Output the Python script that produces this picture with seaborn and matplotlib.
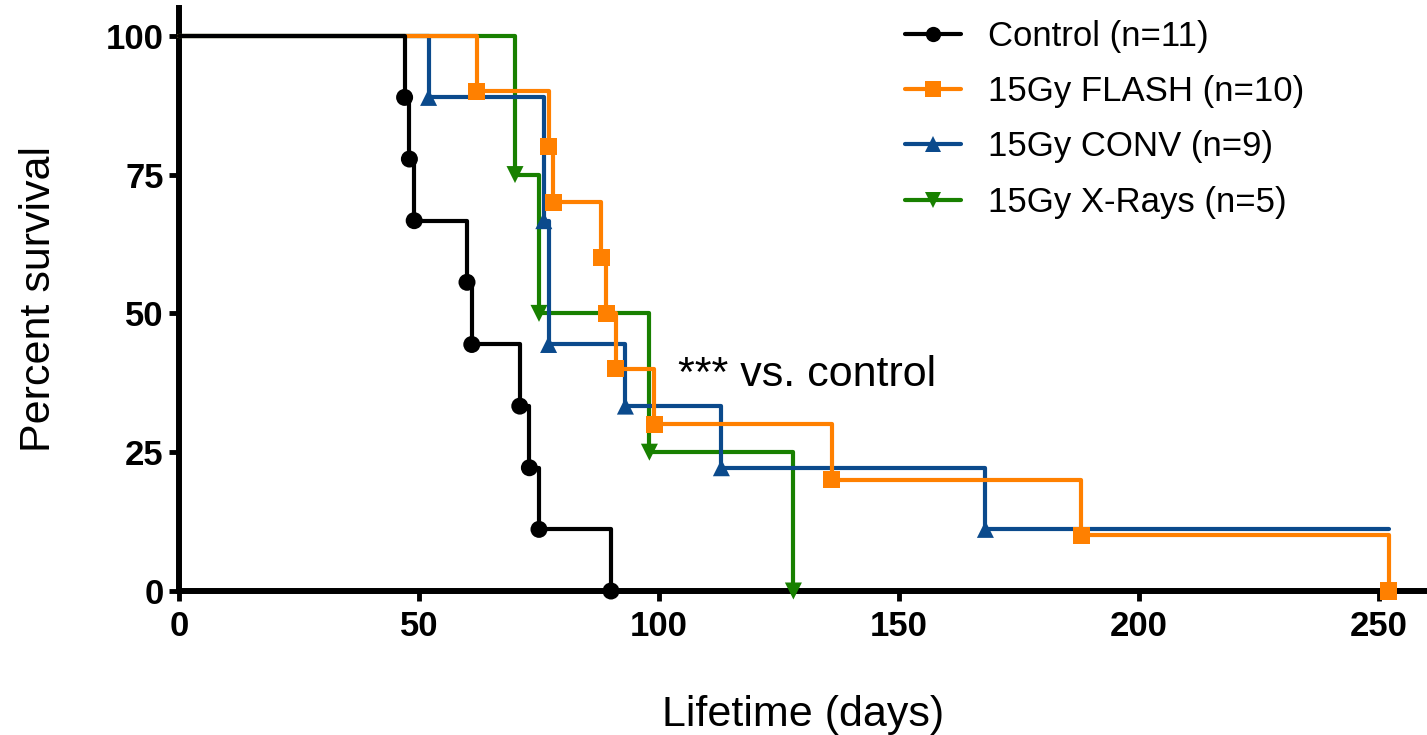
import matplotlib
matplotlib.use("Agg")
import matplotlib.pyplot as plt
from matplotlib.lines import Line2D
import pandas as pd
import seaborn as sns

# Kaplan-Meier survival steps per group (event day, survival % after the event)
control_days = [47, 48, 49, 60, 61, 71, 73, 75, 90]
control_surv = [88.9, 77.8, 66.7, 55.6, 44.4, 33.3, 22.2, 11.1, 0.0]

flash_days = [62, 77, 78, 88, 89, 91, 99, 136, 188, 252]
flash_surv = [90, 80, 70, 60, 50, 40, 30, 20, 10, 0]

conv_days = [52, 76, 77, 93, 113, 168]
conv_surv = [88.9, 66.7, 44.4, 33.3, 22.2, 11.1]
conv_last_censored = 252

xray_days = [70, 75, 98, 128]
xray_surv = [75, 50, 25, 0]

groups = ["Control (n=11)", "15Gy FLASH (n=10)", "15Gy CONV (n=9)", "15Gy X-Rays (n=5)"]
colors = ["#000000", "#FF8000", "#0B4A8C", "#188000"]
markers = ["o", "s", "^", "v"]
# drawing order: control on top, then FLASH, CONV, X-Rays
layer = [4, 3, 2, 1]

x_ticks = [0, 50, 100, 150, 200, 250]
y_ticks = [0, 25, 50, 75, 100]

sns.set_theme(style="ticks")
plt.rcParams["font.family"] = ["Liberation Sans", "DejaVu Sans"]
plt.rcParams["text.color"] = "black"
plt.rcParams["axes.labelcolor"] = "black"
plt.rcParams["xtick.color"] = "black"
plt.rcParams["ytick.color"] = "black"

events = [(control_days, control_surv, None),
          (flash_days, flash_surv, None),
          (conv_days, conv_surv, conv_last_censored),
          (xray_days, xray_surv, None)]

line_rows = []
mark_rows = []
for g, (days, surv, tail) in zip(groups, events):
    xs = [0] + list(days)
    ys = [100] + list(surv)
    if tail is not None:
        xs.append(tail)
        ys.append(surv[-1])
    for x, y in zip(xs, ys):
        line_rows.append({"group": g, "day": x, "survival": y})
    for x, y in zip(days, surv):
        mark_rows.append({"group": g, "day": x, "survival": y})
lines_df = pd.DataFrame(line_rows)
marks_df = pd.DataFrame(mark_rows)

fig = plt.figure(figsize=(14.27, 7.35), dpi=100)
ax = fig.add_axes([179 / 1427, 1 - 591 / 735, 1 - 179 / 1427, (591 - 8) / 735])

for i, g in enumerate(groups):
    sub = lines_df[lines_df["group"] == g]
    sns.lineplot(data=sub, x="day", y="survival", color=colors[i], lw=3.0,
                 drawstyle="steps-post", estimator=None, sort=False, ax=ax,
                 legend=False, zorder=3 + 2 * layer[i], clip_on=False,
                 solid_joinstyle="round")
    msub = marks_df[marks_df["group"] == g]
    sns.scatterplot(data=msub, x="day", y="survival", color=colors[i],
                    marker=markers[i], s=150, edgecolor="none", ax=ax,
                    legend=False, zorder=4 + 2 * layer[i], clip_on=False)

ax.set_xlim(0, 260)
ax.set_ylim(0, 105)
ax.set_xticks(x_ticks)
ax.set_yticks(y_ticks)
for side in ["top", "right"]:
    ax.spines[side].set_visible(False)
for side in ["left", "bottom"]:
    ax.spines[side].set_linewidth(4.3)
    ax.spines[side].set_color("black")
    ax.spines[side].set_zorder(2)
ax.tick_params(axis="both", direction="out", length=7, width=3.5, color="black",
               labelsize=25, pad=4, labelcolor="black")
ax.tick_params(axis="x", pad=7)
for lab in ax.get_xticklabels() + ax.get_yticklabels():
    lab.set_fontweight("bold")

ax.set_xlabel("Lifetime (days)", fontsize=31, labelpad=37, color="black")
ax.set_ylabel("Percent survival", fontsize=31, labelpad=34, color="black")

ax.text(104, 37, "*** vs. control", fontsize=31, ha="left", va="baseline",
        color="black")

handles = [Line2D([0], [0], color=c, lw=3.0, marker=m, markersize=11,
                  markeredgewidth=0)
           for c, m in zip(colors, markers)]
leg = fig.legend(handles, groups, loc="upper left",
                 bbox_to_anchor=(905 / 1427, 1 - 20 / 735), frameon=False,
                 fontsize=25, handlelength=1.6, handletextpad=0.8,
                 labelspacing=0.64, borderpad=0, borderaxespad=0)
for t in leg.get_texts():
    t.set_color("black")

fig.savefig("out.png", dpi=100)
